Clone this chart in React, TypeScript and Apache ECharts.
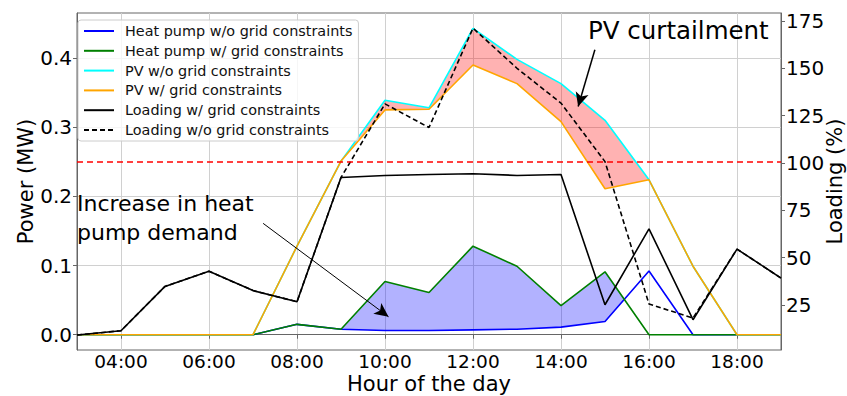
import React, { useEffect, useRef } from "react";
import * as echarts from "echarts";

const hours = [3, 4, 5, 6, 7, 8, 9, 10, 11, 12, 13, 14, 15, 16, 17, 18, 19];
const heatPumpWo = [0, 0, 0, 0, 0, 0.015, 0.008, 0.006, 0.006, 0.007, 0.008, 0.011, 0.019, 0.092, 0, 0, 0];
const heatPumpW = [0, 0, 0, 0, 0, 0.015, 0.008, 0.077, 0.061, 0.128, 0.099, 0.042, 0.091, 0, 0, 0, 0];
const pvWo = [0, 0, 0, 0, 0, 0.128, 0.251, 0.339, 0.328, 0.443, 0.398, 0.363, 0.31, 0.224, 0.099, 0, 0];
const pvW = [0, 0, 0, 0, 0, 0.128, 0.251, 0.325, 0.326, 0.39, 0.363, 0.308, 0.211, 0.224, 0.099, 0, 0];
const loadingW = [9.1, 11.4, 34.8, 42.8, 32.6, 26.7, 92.3, 93.4, 93.9, 94.3, 93.4, 93.9, 25.1, 65.2, 17.2, 54.5, 39.2];
const loadingWo = [9.1, 11.4, 34.8, 42.8, 32.6, 26.7, 92.3, 131.2, 118.7, 171.2, 150.0, 131.6, 100.7, 25.5, 18.1, 54.5, 39.2];
const xTicks = [4, 6, 8, 10, 12, 14, 16, 18];
const powerTicks = [0, 0.1, 0.2, 0.3, 0.4];
const loadingTicks = [25, 50, 75, 100, 125, 150, 175];
const gridLimit = 0.25;
const heatArrow = [[7.23, 0.161], [10.08, 0.026]];
const pvArrow = [[14.77, 0.412], [14.39, 0.33]];

const FONT = "DejaVu Sans";

function regions(xs: number[], up: number[], lo: number[]) {
  const out: number[][][] = [];
  let top: number[][] = [];
  let bot: number[][] = [];
  const flush = () => {
    if (top.length > 1) out.push([...top, ...bot.slice().reverse()]);
    top = [];
    bot = [];
  };
  for (let i = 0; i < xs.length; i++) {
    const d = up[i] - lo[i];
    if (i > 0) {
      const dp = up[i - 1] - lo[i - 1];
      if ((dp > 0 && d < 0) || (dp < 0 && d > 0)) {
        const t = dp / (dp - d);
        const x = xs[i - 1] + t * (xs[i] - xs[i - 1]);
        const y = lo[i - 1] + t * (lo[i] - lo[i - 1]);
        top.push([x, y]);
        bot.push([x, y]);
        if (dp > 0) flush();
      }
    }
    if (d >= 0) {
      top.push([xs[i], up[i]]);
      bot.push([xs[i], lo[i]]);
    } else if (top.length) {
      flush();
    }
  }
  flush();
  return out;
}

const pair = (ys: number[]) => hours.map((h, i) => [h, ys[i]]);
const pad = (v: number) => (v < 10 ? "0" : "") + v + ":00";

function fillSeries(polys: number[][][], color: string) {
  return {
    type: "custom",
    xAxisIndex: 0,
    yAxisIndex: 0,
    silent: true,
    z: 1,
    data: polys.map((p) => [p[0][0], p[0][1]]),
    renderItem: (params: any, api: any) => {
      const poly = polys[params.dataIndex];
      return {
        type: "polygon",
        shape: { points: poly.map((pt) => api.coord(pt)) },
        style: { fill: color, stroke: "none" },
      };
    },
  };
}

export default function App() {
  const ref = useRef<HTMLDivElement>(null);
  useEffect(() => {
    if (!ref.current) return;
    const chart = echarts.init(ref.current, undefined, { renderer: "svg" });
    const hpPolys = regions(hours, heatPumpW, heatPumpWo);
    const pvPolys = regions(hours, pvWo, pvW);
    const lineS = (name: string, ys: number[], color: string, yIdx = 0, dashed = false, extra: any = {}) => ({
      name,
      type: "line",
      data: pair(ys),
      yAxisIndex: yIdx,
      symbol: "none",
      showSymbol: false,
      z: 3,
      lineStyle: { color, width: 1.6, type: dashed ? [5, 3] : "solid" },
      itemStyle: { color },
      ...extra,
    });
    chart.setOption({
      animation: false,
      textStyle: { fontFamily: FONT },
      grid: {
        left: 77,
        right: 66,
        top: 13,
        bottom: 46,
        show: true,
        borderColor: "#666",
        borderWidth: 1,
        containLabel: false,
        outerBoundsMode: "none",
      },
      legend: {
        orient: "vertical",
        left: 78,
        top: 20,
        padding: [4, 6, 4, 5],
        itemWidth: 30,
        itemHeight: 14,
        itemGap: 5.8,
        backgroundColor: "rgba(255,255,255,0.8)",
        borderColor: "#cccccc",
        borderWidth: 1,
        borderRadius: 3,
        itemStyle: { opacity: 0 },
        textStyle: { fontFamily: FONT, fontSize: 14.4, color: "#111", lineHeight: 14, padding: [0, 0, 0, 6] },
        data: [
          "Heat pump w/o grid constraints",
          "Heat pump w/ grid constraints",
          "PV w/o grid constraints",
          "PV w/ grid constraints",
          "Loading w/ grid constraints",
          "Loading w/o grid constraints",
        ],
      },
      xAxis: {
        type: "value",
        min: 3,
        max: 19,
        name: "Hour of the day",
        nameLocation: "middle",
        nameGap: 23.5,
        nameMoveOverlap: false,
        nameTextStyle: { fontFamily: FONT, fontSize: 21, lineHeight: 21, color: "#000" },
        axisLine: { lineStyle: { color: "#666", width: 1 } },
        axisTick: { show: true, length: 4, customValues: xTicks, lineStyle: { color: "#666" } },
        axisLabel: { customValues: xTicks, formatter: (v: number) => pad(v), fontFamily: FONT, fontSize: 18.5, lineHeight: 18, color: "#000", margin: 2 },
        splitLine: { show: true, lineStyle: { color: "#d0d0d0", width: 1 } },
      },
      yAxis: [
        {
          type: "value",
          min: -0.0221,
          max: 0.4651,
          name: "Power (MW)",
          nameLocation: "middle",
          nameGap: 41,
          nameMoveOverlap: false,
          nameTextStyle: { fontFamily: FONT, fontSize: 21, color: "#000" },
          axisLine: { show: true, lineStyle: { color: "#666", width: 1 } },
          axisTick: { show: true, length: 4, customValues: powerTicks, lineStyle: { color: "#666" } },
          axisLabel: { customValues: powerTicks, formatter: (v: number) => v.toFixed(1), fontFamily: FONT, fontSize: 20, color: "#000", margin: 5 },
          splitLine: { show: true, lineStyle: { color: "#d0d0d0", width: 1 } },
        },
        {
          type: "value",
          min: 1.2,
          max: 179.2,
          position: "right",
          name: "Loading (%)",
          nameLocation: "middle",
          nameGap: 43,
          nameMoveOverlap: false,
          nameTextStyle: { fontFamily: FONT, fontSize: 21, color: "#000" },
          axisLine: { show: true, lineStyle: { color: "#666", width: 1 } },
          axisTick: { show: true, length: 4, customValues: loadingTicks, lineStyle: { color: "#666" } },
          axisLabel: { customValues: loadingTicks, fontFamily: FONT, fontSize: 20, color: "#000", margin: 5 },
          splitLine: { show: false },
        },
      ],
      series: [
        fillSeries(hpPolys, "rgba(0,0,255,0.3)"),
        fillSeries(pvPolys, "rgba(255,0,0,0.3)"),
        lineS("Heat pump w/o grid constraints", heatPumpWo, "#0000ff", 0, false, {
          markLine: {
            silent: true,
            symbol: ["none", "arrow"],
            symbolSize: [10, 14],
            label: { show: false },
            lineStyle: { color: "#000", width: 1, type: "solid" },
            data: [[{ coord: heatArrow[0] }, { coord: heatArrow[1] }]],
          },
        }),
        lineS("Heat pump w/ grid constraints", heatPumpW, "#008000"),
        lineS("PV w/o grid constraints", pvWo, "#00ffff", 0, false, {
          markLine: {
            silent: true,
            symbol: ["none", "arrow"],
            symbolSize: [10, 14],
            label: { show: false },
            lineStyle: { color: "#000", width: 1.5, type: "solid" },
            data: [[{ coord: pvArrow[0] }, { coord: pvArrow[1] }]],
          },
        }),
        lineS("PV w/ grid constraints", pvW, "#ffa500", 0, false, {
          markLine: {
            silent: true,
            symbol: "none",
            label: { show: false },
            lineStyle: { color: "#ff0000", width: 1.5, type: [6, 4] },
            data: [{ yAxis: gridLimit }],
          },
        }),
        lineS("Loading w/ grid constraints", loadingW, "#000000", 1),
        lineS("Loading w/o grid constraints", loadingWo, "#000000", 1, true),
      ],
      graphic: [
        {
          type: "text",
          left: 588,
          top: 18,
          style: { text: "PV curtailment", fontFamily: FONT, fontSize: 24.5, fill: "#000" },
          z: 10,
        },
        {
          type: "text",
          left: 77,
          top: 189,
          style: { text: "Increase in heat\npump demand", fontFamily: FONT, fontSize: 22, lineHeight: 29, fill: "#000" },
          z: 10,
        },
      ],
    });
    return () => chart.dispose();
  }, []);
  return <div ref={ref} style={{ width: 847, height: 396, position: "absolute", left: 0, top: 0 }} />;
}
